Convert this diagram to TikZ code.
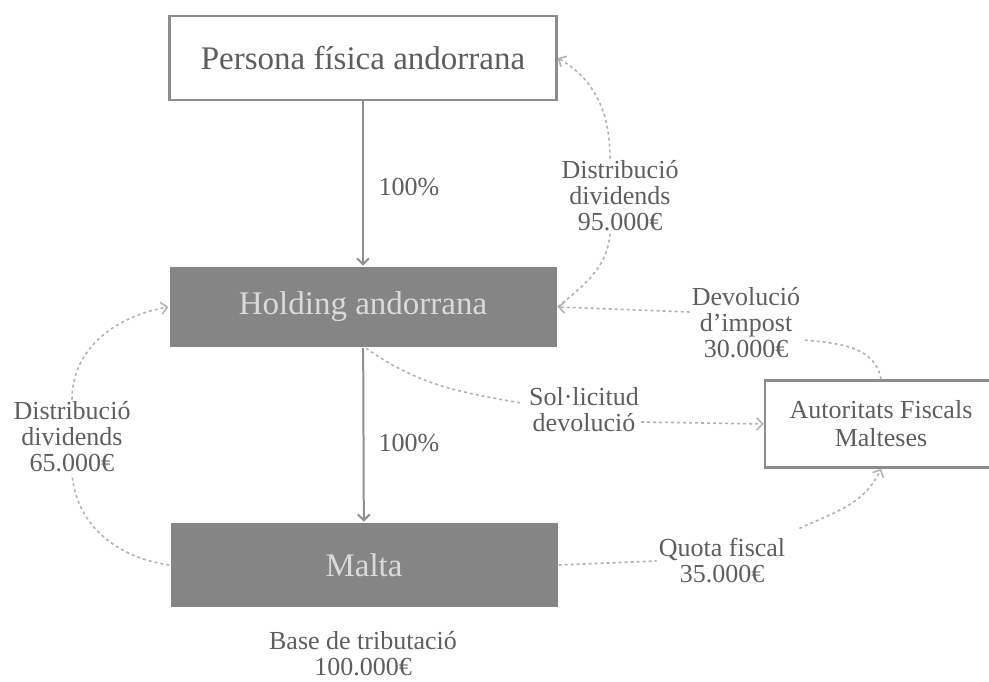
\documentclass[tikz,border=0pt]{standalone}
\usepackage{fontspec}
\setmainfont{Liberation Serif}
\usetikzlibrary{arrows.meta}

\definecolor{boxline}{HTML}{8C8C8C}
\definecolor{boxfill}{HTML}{858585}
\definecolor{boxtext}{HTML}{DADADA}
\definecolor{txtgray}{HTML}{5E5E5E}
\definecolor{solidline}{HTML}{909090}
\definecolor{dashline}{HTML}{B2B2B2}

\begin{document}
\begin{tikzpicture}[x=1pt, y=1pt,
	box/.style={draw=boxline, line width=2.5pt, minimum width=387pt, minimum height=84pt, font=\fontsize{33}{36}\selectfont, text=txtgray},
	darkbox/.style={box, draw=none, fill=boxfill, text=boxtext},
	lbl/.style={align=center, font=\fontsize{26}{26}\selectfont, text=txtgray, inner sep=2pt},
	own/.style={draw=solidline, line width=2pt, -{Straight Barb[length=6pt, width=12pt]}},
	flow/.style={draw=dashline, line width=1.6pt, dash pattern=on 3pt off 3pt},
	tip/.style={-{Straight Barb[length=6pt, width=12pt]}}
]
	\path [use as bounding box, clip] (0,0) rectangle (989,682);

	% boxes
	\node [box, fill=white] (persona) at (363, 624) {Persona física andorrana};
	\node [darkbox, minimum height=80pt] (holding) at (363, 375) {Holding andorrana};
	\node [darkbox] (malta) at (364, 117) {Malta};
	\node [box, minimum width=232pt, minimum height=87pt, align=center, font=\fontsize{26}{28}\selectfont] (autor) at (881, 258) {Autoritats Fiscals\\Malteses};

	% labels
	\node [lbl] (div95) at (620, 486) {Distribució\\dividends\\95.000€};
	\node [lbl] (div65) at (72, 245) {Distribució\\dividends\\65.000€};
	\node [lbl] (devol) at (746, 359) {Devolució\\d’impost\\30.000€};
	\node [lbl] (solic) at (584, 272) {Sol·licitud\\devolució};
	\node [lbl] (quota) at (722, 121) {Quota fiscal\\35.000€};
	\node [lbl] (base) at (363, 28) {Base de tributació\\100.000€};

	% ownership
	\foreach \from/\to/\ypos in {persona/holding/495, holding/malta/239}{%
		\path [own] (\from) -- (\to);
		\node [lbl] at (409, \ypos) {100\%};
	}

	% flows
	\path [flow] (holding.east) to [out=40, in=-95] ([xshift=-10pt]div95.south);
	\path [flow, tip] ([xshift=-10pt]div95.north) to [out=90, in=-30] (persona.east);
	\path [flow] (autor.north) to [out=100, in=-5] ([yshift=-17pt]devol.east);
	\path [flow, tip] ([yshift=11pt]devol.west) -- (holding.east);
	\path [flow] ([xshift=3pt]holding.south) to [out=-35, in=170] ([xshift=-6pt, yshift=7pt]solic.west);
	\path [flow, tip] ([yshift=-12pt]solic.east) -- (autor.west);
	\path [flow] (malta.east) -- (quota.west);
	\path [flow, tip] ([xshift=12pt, yshift=8pt]quota.north east) to [out=25, in=-115] (autor.south);
	\path [flow] (malta.west) to [out=172, in=-85] (div65.south);
	\path [flow, tip] (div65.north) to [out=90, in=190] (holding.west);
\end{tikzpicture}
\end{document}
